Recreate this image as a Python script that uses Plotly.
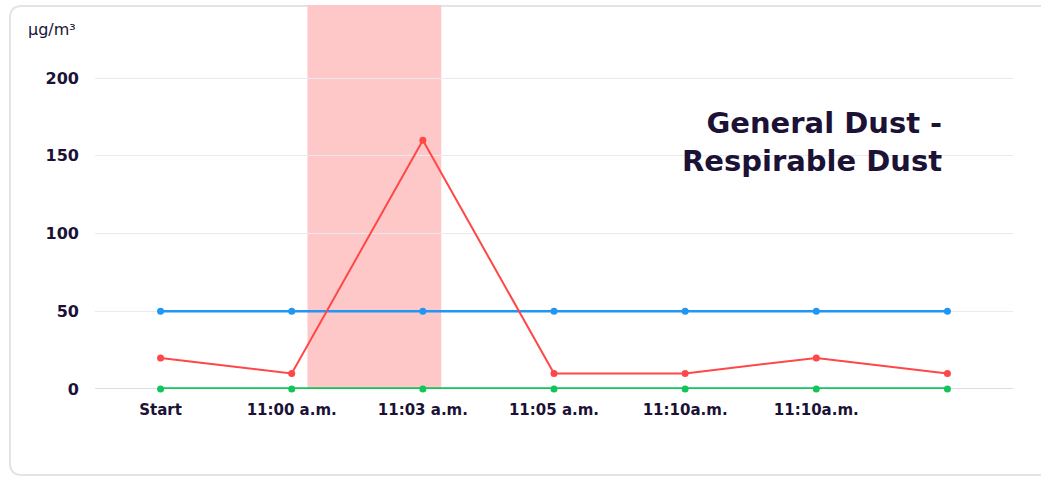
import plotly.graph_objects as go

# Sample points along the time axis (the last sample has no label)
x_index = [0, 1, 2, 3, 4, 5, 6]
tick_labels = ["Start", "11:00 a.m.", "11:03 a.m.", "11:05 a.m.", "11:10a.m.", "11:10a.m."]

respirable_dust = [20, 10, 160, 10, 10, 20, 10]
limit_level = [50, 50, 50, 50, 50, 50, 50]
baseline_level = [0, 0, 0, 0, 0, 0, 0]

# Highlighted exceedance window, in category units
alert_window = [1.12, 2.14]

y_ticks = [0, 50, 100, 150, 200]

W, H = 1041, 478
ML, MR, MT, MB = 95, 28, 5, 89
Y_MAX = 247

TEXT = "#1b1236"
FONT = "DejaVu Sans, sans-serif"

fig = go.Figure()

fig.add_trace(go.Scatter(
    x=x_index, y=limit_level, mode="lines+markers",
    line=dict(color="#2196f3", width=2.5),
    marker=dict(color="#2196f3", size=7),
    cliponaxis=False, hoverinfo="skip", showlegend=False,
))
fig.add_trace(go.Scatter(
    x=x_index, y=respirable_dust, mode="lines+markers",
    line=dict(color="#ff4747", width=2),
    marker=dict(color="#ff4747", size=7),
    cliponaxis=False, hoverinfo="skip", showlegend=False,
))
fig.add_trace(go.Scatter(
    x=x_index, y=baseline_level, mode="lines+markers",
    line=dict(color="#12c45a", width=3.5),
    marker=dict(color="#12c45a", size=7),
    cliponaxis=False, hoverinfo="skip", showlegend=False,
))

# Pixel -> paper conversion for the card outline
pw = W - ML - MR
ph = H - MT - MB


def px(xp):
    return (xp - ML) / pw


def py(yp):
    return (H - MB - yp) / ph


x0, y0, x1, y1, r = 10, 6, 1060, 475, 12
card = (
    f"M {px(x0 + r)} {py(y0)} L {px(x1)} {py(y0)} "
    f"L {px(x1)} {py(y1)} L {px(x0 + r)} {py(y1)} "
    f"Q {px(x0)} {py(y1)} {px(x0)} {py(y1 - r)} "
    f"L {px(x0)} {py(y0 + r)} "
    f"Q {px(x0)} {py(y0)} {px(x0 + r)} {py(y0)} Z"
)

fig.update_layout(
    width=W, height=H,
    margin=dict(l=ML, r=MR, t=MT, b=MB),
    paper_bgcolor="white", plot_bgcolor="white",
    font=dict(family=FONT, color=TEXT),
    shapes=[
        dict(type="path", xref="paper", yref="paper", path=card,
             line=dict(color="#e4e4e8", width=2), fillcolor="rgba(0,0,0,0)",
             layer="below"),
        dict(type="rect", xref="x", yref="y",
             x0=alert_window[0], x1=alert_window[1], y0=0, y1=Y_MAX,
             fillcolor="#ffc8c8", line=dict(width=0), layer="below"),
        dict(type="line", xref="paper", yref="y", x0=0, x1=1, y0=0, y1=0,
             line=dict(color="#dcdce4", width=2), layer="below"),
    ],
    annotations=[
        dict(text="µg/m³", xref="paper", yref="paper",
             x=px(26), y=py(30), xanchor="left", yanchor="middle",
             showarrow=False, font=dict(size=16, color=TEXT, family=FONT)),
        dict(text="<b>General Dust -<br>Respirable Dust</b>", xref="paper", yref="paper",
             x=px(944), y=py(142), xanchor="right", yanchor="middle", align="right",
             showarrow=False, font=dict(size=29, color=TEXT, family=FONT)),
    ],
)

fig.update_xaxes(
    range=[-0.5, 6.5],
    tickvals=x_index[:len(tick_labels)], ticktext=[f"<b>{t}</b>" for t in tick_labels],
    showgrid=False, zeroline=False, showline=False, ticks="",
    ticklabelstandoff=10,
    tickfont=dict(size=15, color=TEXT, family=FONT),
)
fig.update_yaxes(
    range=[0, Y_MAX], tickvals=y_ticks, ticktext=[f"<b>{v}</b>" for v in y_ticks],
    showgrid=True, gridcolor="#ebebef", gridwidth=1,
    zeroline=False, showline=False, ticks="", ticklabelstandoff=15,
    tickfont=dict(size=16, color=TEXT, family=FONT),
)

fig.write_html("out.html")
